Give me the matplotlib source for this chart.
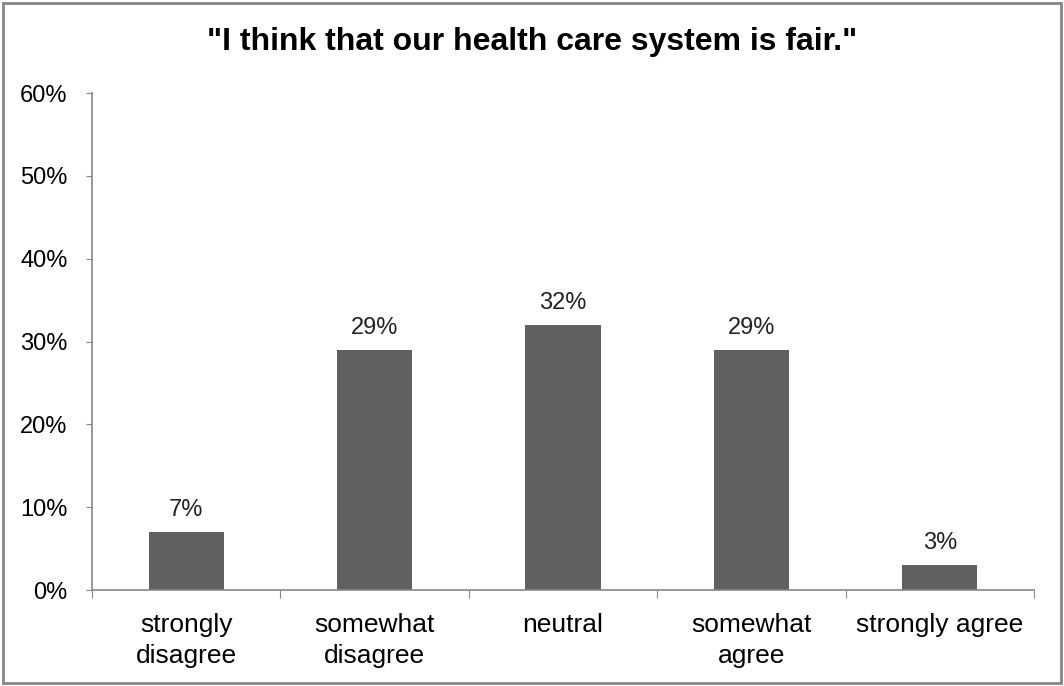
import matplotlib
matplotlib.use("Agg")
import numpy as np
from matplotlib import pyplot as plt
from matplotlib.patches import Rectangle

categories = ["strongly\ndisagree", "somewhat\ndisagree", "neutral", "somewhat\nagree", "strongly agree"]
values = [7, 29, 32, 29, 3]
yticks = [0, 10, 20, 30, 40, 50, 60]
title = '"I think that our health care system is fair."'

plt.rcParams['font.family'] = ['Liberation Sans', 'DejaVu Sans']

fig = plt.figure(figsize=(10.64, 6.86), dpi=100)
fig.patch.set_facecolor("white")
fig.patches.append(Rectangle((0.003, 0.004), 0.994, 0.992, transform=fig.transFigure,
                             fill=False, edgecolor="#868686", linewidth=2))

ax = fig.add_axes([0.0865, 0.1399, 0.8853, 0.7245])
x = np.arange(len(categories))
ax.bar(x, values, width=0.4, color="#606060", zorder=2)

for xi, v in zip(x, values):
    ax.annotate("%d%%" % v, (xi, v), xytext=(0, 8), textcoords="offset points",
                ha="center", va="bottom", fontsize=17, color="#222222")

ax.set_xlim(-0.5, len(categories) - 0.5)
ax.set_ylim(0, 60)
ax.set_yticks(yticks)
ax.set_yticklabels(["%d%%" % t for t in yticks])

ax.set_xticks(np.arange(-0.5, len(categories), 1.0))
ax.set_xticklabels([])
ax.set_xticks(x, minor=True)
ax.set_xticklabels(categories, minor=True, fontsize=19, linespacing=1.38)
ax.tick_params(axis="x", which="minor", length=0, pad=16.5)
ax.tick_params(axis="x", which="major", length=6, color="#868686", direction="out")
ax.tick_params(axis="y", length=4.5, color="#868686", pad=13, labelsize=17)

for side in ["top", "right"]:
    ax.spines[side].set_visible(False)
for side in ["left", "bottom"]:
    ax.spines[side].set_color("#868686")
    ax.spines[side].set_linewidth(1.2)

fig.text(0.5, 0.939, title, ha="center", va="center", fontsize=23, fontweight="bold")

fig.savefig("out.png", dpi=100)
